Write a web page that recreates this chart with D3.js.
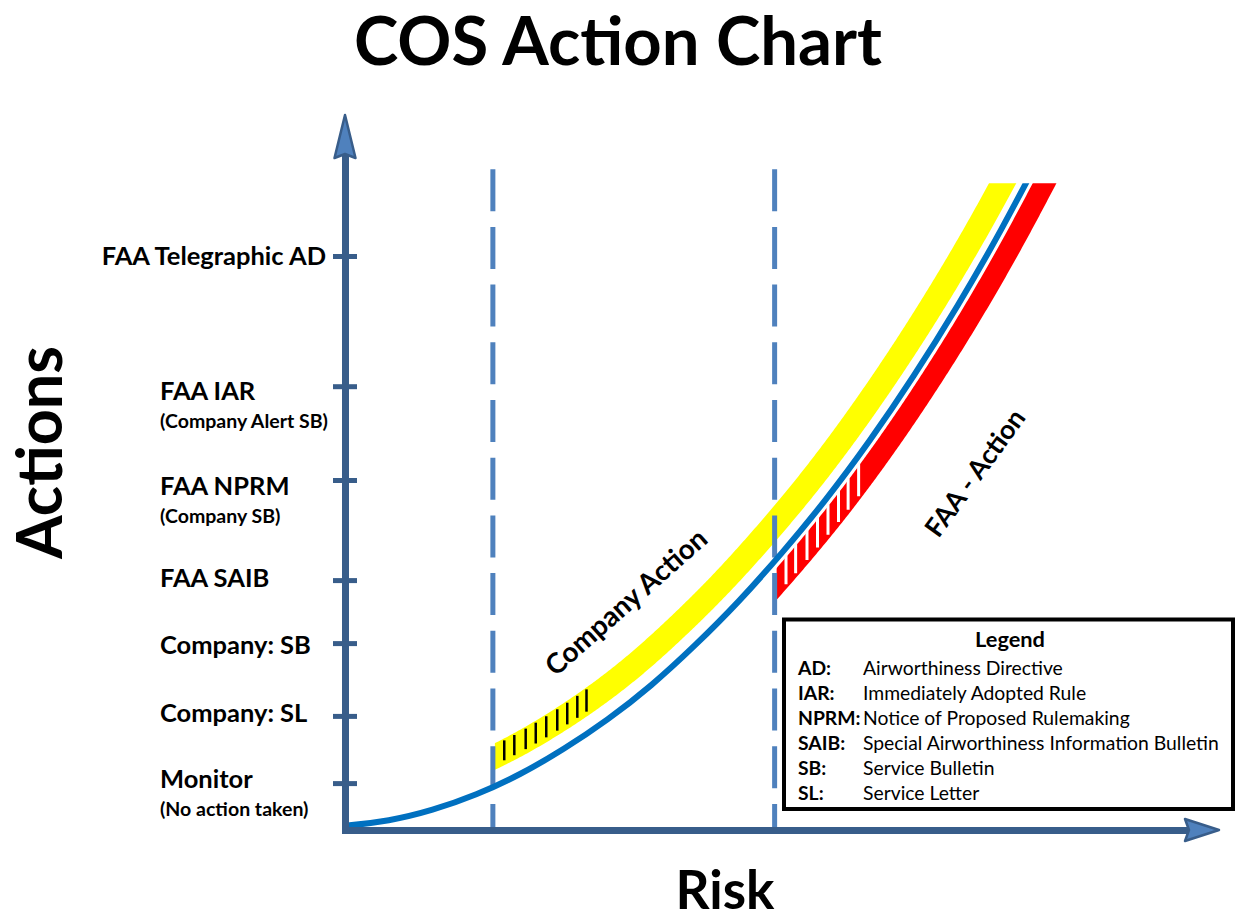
<!DOCTYPE html>
<html><head><meta charset="utf-8">
<script src="https://cdn.jsdelivr.net/npm/d3@7"></script>
<style>
body{margin:0;background:#fff}
svg{display:block}
text{font-family:Lato,"Open Sans",sans-serif;fill:#000}
</style>
</head><body>
<svg id="c" width="1235" height="919"></svg>
<script>
// ---------------- data ----------------
const riskValues   = [0, 5, 10, 15, 20, 25, 30, 35, 40, 45, 50, 55, 60, 65, 70, 75, 80];
const actionValues = [0.6, 1.4, 2.9, 5.1, 8.0, 11.6, 15.8, 20.7, 26.4, 32.7, 39.7, 47.3, 55.7, 64.9, 74.9, 85.8, 97.6];
const tickActions  = [82, 63.4, 50, 35.7, 26.7, 16.3, 6.7];
const tickLabels   = ["FAA Telegraphic AD", "FAA IAR", "FAA NPRM", "FAA SAIB", "Company: SB", "Company: SL", "Monitor"];
const tickSubLabels= ["", "(Company Alert SB)", "(Company SB)", "", "", "", "(No action taken)"];
const thresholds   = [16.9, 49.1];           // risk levels of the dashed lines
const companyHatch = [18.2, 19.35, 20.65, 21.8, 23.0, 24.26, 25.4, 26.55, 27.6];
const faaHatch     = [50.4, 51.5, 52.8, 54.0, 55.2, 56.4, 57.5, 58.7];
const legendAbbr   = ["AD:", "IAR:", "NPRM:", "SAIB:", "SB:", "SL:"];
const legendDesc   = ["Airworthiness Directive", "Immediately Adopted Rule", "Notice of Proposed Rulemaking",
                      "Special Airworthiness Information Bulletin", "Service Bulletin", "Service Letter"];
const maxAction = 92.4;
const dashTop = 94.4;

// layout nudges (px) for the axis label text relative to its tick
const labelNudge = [0, 5, 6, -2, 2, -3, -4];

// ---------------- setup ----------------
const W = 1235, H = 919;
const svg = d3.select('#c');
const x = d3.scaleLinear().domain([0, 100]).range([345, 1220]);
const y = d3.scaleLinear().domain([0, 100]).range([830, 130]);
const AXIS = '#385D8A';
const topPx = y(maxAction);

const defs = svg.append('defs');
defs.append('clipPath').attr('id', 'clipTop').append('rect')
  .attr('x', 0).attr('y', topPx).attr('width', W).attr('height', H - topPx);
defs.append('clipPath').attr('id', 'clipYellow').append('rect')
  .attr('x', x(thresholds[0]) + 2).attr('y', topPx).attr('width', W).attr('height', H - topPx);
defs.append('clipPath').attr('id', 'clipRed').append('rect')
  .attr('x', x(thresholds[1]) + 2).attr('y', topPx).attr('width', W).attr('height', H - topPx);

const gBands = svg.append('g');
const gDash = svg.append('g');
const gCurve = svg.append('g').attr('clip-path', 'url(#clipTop)');
const gAxes = svg.append('g');
const gText = svg.append('g');

// main curve
const pts = riskValues.map((r, i) => [x(r), y(actionValues[i])]);
const lineGen = d3.line().curve(d3.curveNatural);
const curve = gCurve.append('path').attr('d', lineGen(pts))
  .attr('fill', 'none').attr('stroke', '#0070C0').attr('stroke-width', 6).attr('stroke-linecap', 'round');

// sample curve for parallel bands
const node = curve.node();
const L = node.getTotalLength();
const samples = [];
for (let s = 0; s < L; s += 2) samples.push(node.getPointAtLength(s));
samples.push(node.getPointAtLength(L));
const n = samples.length;
function offsetEdge(dFn) {
  return samples.map((p, i) => {
    const a = samples[Math.max(0, i - 2)], b = samples[Math.min(n - 1, i + 2)];
    let tx = b.x - a.x, ty = b.y - a.y; const m = Math.hypot(tx, ty) || 1; tx /= m; ty /= m;
    const d = dFn(p);
    return [p.x + ty * d, p.y - tx * d];
  });
}
const gapY = p => 5.5 + 6.5 * Math.max(0, Math.min(1.2, (p.y - 183) / 604));
const yInner = offsetEdge(p => 3 + gapY(p));
const yOuter = offsetEdge(p => 3 + gapY(p) + 24);
const rInner = offsetEdge(p => -6);
const rOuter = offsetEdge(p => -27);
const bandPath = (a, b) => 'M' + a.map(p => p.join(',')).join('L') + 'L' + b.slice().reverse().map(p => p.join(',')).join('L') + 'Z';

gBands.append('path').attr('d', bandPath(yOuter, yInner)).attr('fill', '#FFFF00').attr('clip-path', 'url(#clipYellow)');
gBands.append('path').attr('d', bandPath(rInner, rOuter)).attr('fill', '#FF0000').attr('clip-path', 'url(#clipRed)');

const bis = d3.bisector(p => p[0]).left;
function edgeY(edge, px) {
  const i = Math.max(1, Math.min(edge.length - 1, bis(edge, px)));
  const a = edge[i - 1], b = edge[i];
  const t = (px - a[0]) / ((b[0] - a[0]) || 1);
  return a[1] + t * (b[1] - a[1]);
}
gBands.append('g').selectAll('line').data(companyHatch).join('line')
  .attr('x1', d => x(d)).attr('x2', d => x(d))
  .attr('y1', d => edgeY(yOuter, x(d)) + 2).attr('y2', d => edgeY(yInner, x(d)) - 5)
  .attr('stroke', '#000').attr('stroke-width', 2.5);
gBands.append('g').attr('clip-path', 'url(#clipRed)').selectAll('line').data(faaHatch).join('line')
  .attr('x1', d => x(d)).attr('x2', d => x(d))
  .attr('y1', d => edgeY(rInner, x(d)) - 2).attr('y2', d => edgeY(rOuter, x(d)) - 5)
  .attr('stroke', '#fff').attr('stroke-width', 3);

// dashed threshold lines
gDash.selectAll('line').data(thresholds).join('line')
  .attr('x1', d => x(d)).attr('x2', d => x(d))
  .attr('y1', y(dashTop)).attr('y2', y(0))
  .attr('stroke', '#4F81BD').attr('stroke-width', 5).attr('stroke-dasharray', '42,15.7');

// axes
const yAxis = d3.axisLeft(y).tickValues(tickActions).tickFormat('').tickSizeInner(12).tickSizeOuter(0);
const gy = gAxes.append('g').attr('transform', `translate(${x(0)},0)`).call(yAxis);
gy.select('.domain').attr('stroke', AXIS).attr('stroke-width', 7).attr('stroke-linecap', 'square');
gy.selectAll('.tick line').attr('x1', 12).attr('stroke', AXIS).attr('stroke-width', 5);

const xAxisScale = x.copy().range([x(0), 1205]);
const gx = gAxes.append('g').attr('transform', `translate(0,${y(0)})`)
  .call(d3.axisBottom(xAxisScale).tickValues([]).tickSizeOuter(0));
gx.select('.domain').attr('stroke', AXIS).attr('stroke-width', 7).attr('stroke-linecap', 'square');

// arrowheads
const ax0 = x(0), ay0 = y(0);
gAxes.append('path').attr('d', `M${ax0},115 L${ax0 + 10.5},158 L${ax0},154 L${ax0 - 10.5},158 Z`)
  .attr('fill', '#4F81BD').attr('stroke', AXIS).attr('stroke-width', 2.5).attr('stroke-linejoin', 'round');
gAxes.append('path').attr('d', `M1219,${ay0} L1185,${ay0 - 11} L1189,${ay0} L1185,${ay0 + 11} Z`)
  .attr('fill', '#4F81BD').attr('stroke', AXIS).attr('stroke-width', 2.5).attr('stroke-linejoin', 'round');

// ---------------- text ----------------
function fit(sel, w) {
  const cur = sel.node().getComputedTextLength();
  const fs = parseFloat(sel.attr('font-size'));
  const nf = fs * w / cur;
  sel.attr('font-size', nf);
  return nf;
}

const title = gText.append('text').attr('x', 618).attr('y', 65).attr('text-anchor', 'middle')
  .attr('font-weight', 700).attr('font-size', 56).text('COS Action Chart');
fit(title, 528);

const act = gText.append('text').attr('transform', 'translate(62,452.5) rotate(-90)').attr('text-anchor', 'middle')
  .attr('font-weight', 700).attr('font-size', 60).text('Actions');
fit(act, 213);

const risk = gText.append('text').attr('x', 725).attr('y', 909).attr('text-anchor', 'middle')
  .attr('font-weight', 700).attr('font-size', 56).text('Risk');
fit(risk, 99);

// y labels
const probe = gText.append('text').attr('font-weight', 700).attr('font-size', 20).text('Company: SB');
const mainFs = fit(probe, 151); probe.remove();
const probe2 = gText.append('text').attr('font-weight', 700).attr('font-size', 14).text('(Company Alert SB)');
const subFs = fit(probe2, 168); probe2.remove();

gText.append('g').selectAll('text').data(tickLabels).join('text')
  .attr('x', (d, i) => i === 0 ? 326 : 160)
  .attr('text-anchor', (d, i) => i === 0 ? 'end' : 'start')
  .attr('y', (d, i) => y(tickActions[i]) + labelNudge[i])
  .attr('dy', '0.36em')
  .attr('font-weight', 700).attr('font-size', mainFs).text(d => d);
gText.append('g').selectAll('text').data(tickSubLabels.map((d, i) => [d, i]).filter(d => d[0])).join('text')
  .attr('x', 160)
  .attr('y', d => y(tickActions[d[1]]) + labelNudge[d[1]] + 30)
  .attr('dy', '0.36em')
  .attr('font-weight', 700).attr('font-size', subFs).text(d => d[0]);

// curve annotations
const ca = gText.append('text').attr('transform', 'translate(626,602) rotate(-41.5)').attr('text-anchor', 'middle')
  .attr('dy', '0.35em').attr('font-weight', 700).attr('font-size', 24).text('Company Action');
fit(ca, 205);
const fa = gText.append('text').attr('transform', 'translate(975,473) rotate(-54)').attr('text-anchor', 'middle')
  .attr('dy', '0.35em').attr('font-weight', 700).attr('font-size', 24).text('FAA - Action');
fit(fa, 150);

// legend
const lg = gText.append('g');
lg.append('rect').attr('x', 784).attr('y', 619.5).attr('width', 449).attr('height', 189.5)
  .attr('fill', '#fff').attr('stroke', '#000').attr('stroke-width', 4);
const lt = lg.append('text').attr('x', 1010).attr('y', 647).attr('text-anchor', 'middle')
  .attr('font-weight', 700).attr('font-size', 20).text('Legend');
fit(lt, 70);
const probe3 = lg.append('text').attr('font-size', 16).text(legendDesc[3]);
const legFs = fit(probe3, 356); probe3.remove();
lg.selectAll('text.ab').data(legendAbbr).join('text').attr('class', 'ab')
  .attr('x', 798).attr('y', (d, i) => 675 + i * 25).attr('font-weight', 700).attr('font-size', legFs).text(d => d);
lg.selectAll('text.ds').data(legendDesc).join('text').attr('class', 'ds')
  .attr('x', 863).attr('y', (d, i) => 675 + i * 25).attr('font-size', legFs).text(d => d);
</script>
</body></html>
